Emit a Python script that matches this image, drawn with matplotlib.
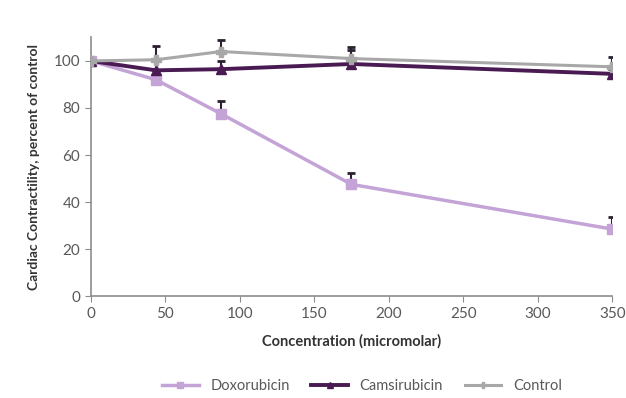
import matplotlib.pyplot as plt

conc = [0, 43.75, 87.5, 175, 350]

doxorubicin = [100, 92, 77.5, 47.5, 28.5]
doxorubicin_err = [0, 0, 5.5, 5, 5]

camsirubicin = [100, 96, 96.5, 98.7, 94.5]
camsirubicin_err = [0, 0, 3.5, 6, 2]

control = [100, 100.5, 104, 101, 97.5]
control_err = [0, 6, 5, 5, 4]

x_ticks = [0, 50, 100, 150, 200, 250, 300, 350]
y_ticks = [0, 20, 40, 60, 80, 100]

plt.rcParams['font.family'] = ['Lato', 'DejaVu Sans']

fig = plt.figure(figsize=(6.26, 3.98), dpi=100)
ax = fig.add_axes([0.145, 0.256, 0.833, 0.65])

series = [
    ('Doxorubicin', doxorubicin, doxorubicin_err, '#c4a3d6', 's', 2.5),
    ('Camsirubicin', camsirubicin, camsirubicin_err, '#4a1a52', '^', 2.8),
    ('Control', control, control_err, '#a8a8a8', 'P', 2.2),
]

handles = []
for name, vals, err, col, mk, lw in series:
    eb = ax.errorbar(conc, vals, yerr=[[0] * len(err), err], color=col, lw=lw,
                     marker=mk, markersize=7, ecolor='#2a2030', elinewidth=1.5,
                     capsize=3, capthick=2, label=name, zorder=3)
    handles.append(eb[0])

ax.set_xlim(0, 350)
ax.set_ylim(0, 110)
ax.set_xticks(x_ticks)
ax.set_yticks(y_ticks)

for side in ['top', 'right']:
    ax.spines[side].set_visible(False)
for side in ['left', 'bottom']:
    ax.spines[side].set_color('#8c8c8c')
    ax.spines[side].set_linewidth(1.2)
ax.tick_params(colors='#8c8c8c', labelcolor='#595959', labelsize=11, direction='out', length=4)

ax.set_xlabel('Concentration (micromolar)', fontsize=10.5, fontweight='bold', color='#333333', labelpad=10)
ax.set_ylabel('Cardiac Contractility, percent of control', fontsize=10, fontweight='bold', color='#333333', labelpad=10)

ax.legend(handles, [s[0] for s in series], loc='upper center', bbox_to_anchor=(0.52, -0.27),
          ncol=3, frameon=False, fontsize=10.5, handlelength=2.5, markerscale=0.6,
          labelcolor='#595959', columnspacing=1.5)

fig.savefig('out.png', dpi=100)
